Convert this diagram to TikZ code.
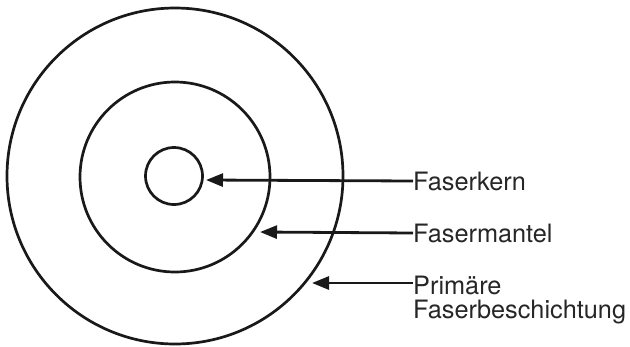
\documentclass[tikz,border=0pt]{standalone}
\usepackage{fontspec}
\setmainfont{TeX Gyre Heros}
\usetikzlibrary{arrows.meta}
\begin{document}
\begin{tikzpicture}[x=1pt,y=-1pt,
  ring/.style={draw=black!90, line width=2.7pt, circle, inner sep=0pt},
  pointer/.style={draw=black!90, line width=2.8pt, -{Triangle[length=17pt,width=13pt]}},
  label/.style={inner sep=0pt, text=black!85, font=\fontsize{25.3}{23.5}\selectfont, align=left}]
  \useasboundingbox (0,0) rectangle (630,346);

  % cross-section rings of the fibre
  \node[ring, minimum size=336pt] (coat) at (175,176) {};
  \node[ring, minimum size=190pt] (clad) at (175,177) {};
  \node[ring, minimum size=57pt]  (core) at (174,176) {};

  % labels
  \node[label, anchor=west] (kern) at (413,181) {Faserkern};
  \node[label, anchor=west] (mantel) at (413,233) {Fasermantel};
  \node[label, anchor=north west] (schicht) at (413,276) {Primäre\\Faserbeschichtung};

  % arrow ends
  \coordinate (kernTip) at (206,180);
  \coordinate (mantelTip) at (260,232);
  \coordinate (schichtStart) at (413,283);
  \coordinate (schichtTip) at (312,283);

  \draw[pointer] (kern.west) -- (kernTip);
  \draw[pointer] (mantel.west) -- (mantelTip);
  \draw[pointer] (schichtStart) -- (schichtTip);
\end{tikzpicture}
\end{document}
